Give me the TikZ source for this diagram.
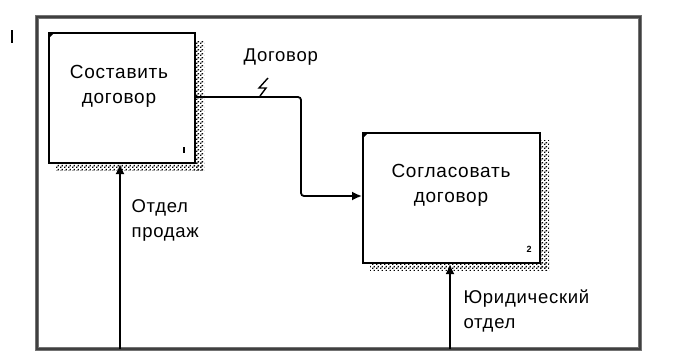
\documentclass[tikz,border=0pt]{standalone}
\usepackage{fontspec}
\setmainfont[LetterSpace=4]{Liberation Sans}
\usetikzlibrary{arrows.meta,patterns}
\pgfdeclarepatternformonly{hatchdots}{\pgfqpoint{0pt}{0pt}}{\pgfqpoint{4pt}{4pt}}{\pgfqpoint{4pt}{4pt}}{%
  \pgfpathrectangle{\pgfqpoint{0pt}{0pt}}{\pgfqpoint{1.6pt}{1.6pt}}%
  \pgfpathrectangle{\pgfqpoint{2pt}{2pt}}{\pgfqpoint{1.6pt}{1.6pt}}%
  \pgfusepath{fill}}
\begin{document}
\begin{tikzpicture}[x=1pt,y=-1pt,
  fn/.style={draw=black,line width=2pt,fill=white,inner sep=0pt},
  shade/.style={pattern=hatchdots,pattern color=black},
  boxtext/.style={font=\fontsize{19}{25}\selectfont,align=center},
  lbl/.style={font=\fontsize{18.5}{25}\selectfont,align=left,anchor=north west},
  num/.style={font=\fontsize{9}{9}\selectfont\bfseries},
  conn/.style={line width=1.8pt,rounded corners=3pt},
  tip/.style={-{Latex[length=10pt,width=9pt]}}
]
\useasboundingbox (0,0) rectangle (679,356);
% outer frame
\draw[line width=3.5pt,black!55] (37,17) rectangle (640,349);
\draw[line width=1.2pt,black!75] (37,17) rectangle (640,349);
% small bar top-left
\draw[line width=1.8pt] (12,30) -- (12,43);
% box 1 shadow and box
\fill[shade] (194,40) rectangle (204,170);
\fill[shade] (56,162) rectangle (204,170);
\node[fn,minimum width=146pt,minimum height=130pt,anchor=north west] (b1) at (48,32) {};
\node[boxtext] (t1) at (119,86) {Составить\\договор};
\fill (48,32) -- (55,32) -- (48,39) -- cycle;
\draw[line width=1.6pt] (184,147) -- (184,153);
% box 2 shadow and box
\fill[shade] (539,140) rectangle (549,270);
\fill[shade] (370,262) rectangle (549,270);
\node[fn,minimum width=177pt,minimum height=130pt,anchor=north west] (b2) at (362,132) {};
\node[boxtext] (t2) at (451,185) {Согласовать\\договор};
\fill (362,132) -- (369,132) -- (362,139) -- cycle;
\node[num] (n2) at (529,249) {2};
% arrow Договор
\coordinate (a1s) at (b1.east |- 0,97);
\coordinate (a1e) at (b2.west |- 0,196);
\draw[conn,tip] (a1s) -- (301,97) -- (301,196) -- (a1e);
\draw[line width=1.4pt] (260,96) -- (266,88) -- (259,88) -- (268,78);
\node[lbl] (l1) at (240,45) {Договор};
% arrow Отдел продаж
\coordinate (m1) at (120,349);
\draw[line width=1.8pt,tip] (m1) -- (m1 |- b1.south);
\node[lbl] (l2) at (128,196) {Отдел\\продаж};
% arrow Юридический отдел
\coordinate (m2) at (450,349);
\draw[line width=1.8pt,tip] (m2) -- (m2 |- b2.south);
\node[lbl] (l3) at (460,286) {Юридический\\отдел};
\end{tikzpicture}
\end{document}
